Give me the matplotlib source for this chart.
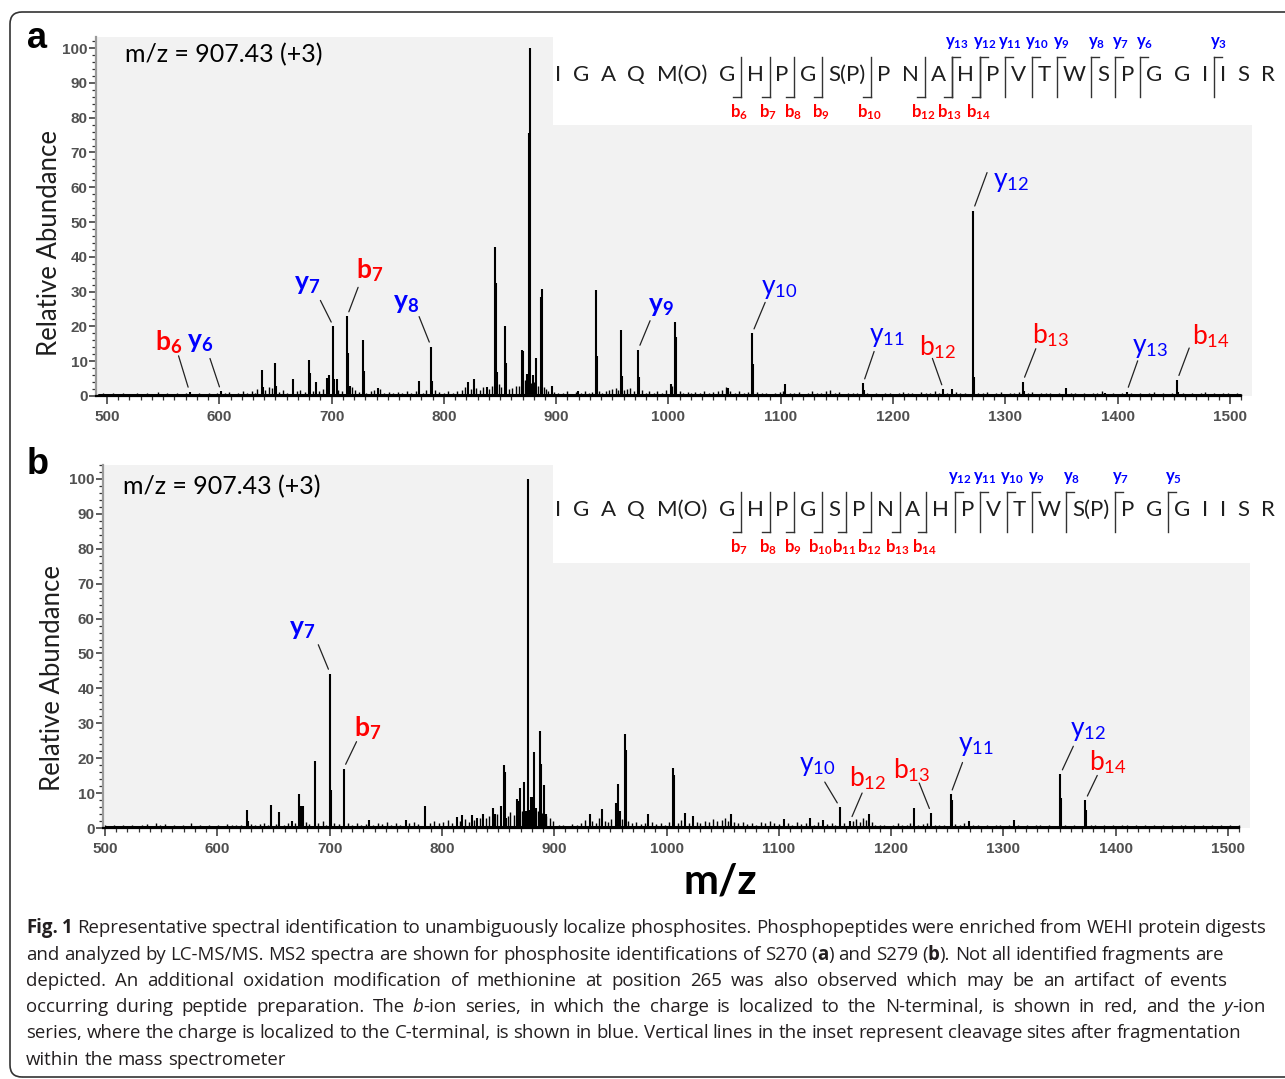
import matplotlib
matplotlib.use("Agg")
import matplotlib.pyplot as plt
from matplotlib.lines import Line2D
from matplotlib.patches import Rectangle, FancyBboxPatch
from matplotlib.ticker import MultipleLocator
from matplotlib.transforms import IdentityTransform

plt.rcParams["mathtext.fontset"] = "custom"
plt.rcParams["mathtext.rm"] = "Lato"
plt.rcParams["mathtext.it"] = "Lato:italic"
plt.rcParams["mathtext.bf"] = "Lato:bold"

# ---------------- data ----------------
# panel a : main peaks (m/z, relative abundance)
peaks_a_mz = [573.5, 601.5, 637.9, 638.8, 649.8, 650.6, 665.6, 679.8, 680.7, 686.0,
              696.2, 697.4, 701.6, 702.5, 704.4, 713.8, 714.7, 716.5, 728.0, 728.9,
              741.0, 777.6, 788.6, 789.5, 821.8, 826.5, 838.0, 845.5, 846.4, 847.3,
              854.4, 855.3, 869.8, 870.7, 874.4, 875.4, 876.7, 879.6, 882.0, 886.5,
              887.6, 895.9, 919.8, 935.1, 935.9, 957.5, 958.3, 972.9, 973.8, 1002.0,
              1006.2, 1007.0, 1053.0, 1074.5, 1075.4, 1104.0, 1173.3, 1174.2, 1244.8, 1252.4,
              1271.2, 1272.1, 1315.5, 1316.4, 1354.0, 1388.7, 1408.0, 1453.0, 1454.0]
peaks_a_h = [1.2, 1.3, 7.4, 2.5, 9.6, 3.0, 4.8, 10.3, 6.7, 3.9,
             5.3, 6.0, 20.0, 5.0, 5.0, 22.9, 12.5, 3.0, 16.1, 7.2,
             2.4, 4.3, 14.2, 4.3, 3.9, 4.8, 2.7, 42.8, 32.4, 6.8,
             20.1, 9.4, 13.2, 13.0, 6.3, 75.5, 100.0, 6.0, 10.8, 28.5,
             30.9, 2.9, 1.4, 30.4, 11.5, 18.9, 5.7, 13.3, 5.5, 3.4,
             21.4, 17.0, 2.4, 18.0, 9.1, 3.4, 3.6, 1.8, 1.9, 2.1,
             53.3, 5.5, 4.1, 1.5, 2.4, 1.0, 1.2, 4.6, 1.2]
noise_a = [(492, 0.6), (496, 1.0), (501, 0.5), (505, 0.8), (509, 0.6), (514, 1.0), (518, 0.5),
           (523, 0.7), (527, 0.9), (531, 0.5), (536, 0.8), (540, 0.6), (545, 1.1), (549, 0.6),
           (553, 0.8), (558, 0.5), (562, 0.9), (566, 0.7), (570, 1.0), (578, 0.6), (582, 0.9),
           (586, 0.5), (591, 0.8), (595, 0.6), (598, 1.0), (605, 0.9), (609, 1.2), (613, 0.7),
           (617, 0.9), (621, 1.3), (625, 0.8), (629, 1.5), (632, 1.0), (634, 2.0), (641, 1.8),
           (644, 2.5), (647, 2.2), (653, 1.2), (657, 1.6), (660, 1.0), (669, 1.4), (672, 1.8),
           (676, 1.2), (683, 1.5), (689, 1.3), (692, 2.0), (706, 1.8), (709, 1.4), (718, 2.5),
           (721, 1.8), (724, 1.2), (731, 1.0), (735, 1.3), (738, 1.8), (743, 2.0), (747, 1.0),
           (751, 1.2), (755, 0.8), (759, 1.1), (763, 0.9), (767, 1.3), (771, 1.0), (775, 1.5),
           (781, 1.0), (784, 1.6), (792, 1.8), (796, 1.2), (800, 1.0), (804, 1.4), (808, 1.0),
           (812, 1.3), (816, 1.6), (819, 2.5), (824, 2.0), (829, 2.2), (832, 1.8), (835, 2.5),
           (840, 2.0), (843, 2.8), (849, 3.5), (851, 2.5), (858, 2.0), (861, 2.2), (864, 2.8),
           (867, 3.0), (872, 4.5), (873, 3.5), (878, 3.8), (880, 4.0), (884, 2.8), (889, 2.5),
           (891, 2.0), (893, 1.5), (898, 1.2), (902, 0.8), (906, 1.0), (910, 1.3), (914, 0.7),
           (918, 1.2), (922, 1.0), (926, 1.5), (929, 0.8), (932, 1.2), (938, 1.5), (941, 1.0),
           (944, 1.4), (947, 1.8), (950, 2.0), (953, 2.2), (955, 1.6), (960, 1.8), (963, 2.0),
           (966, 2.4), (969, 1.5), (976, 1.6), (980, 1.0), (983, 1.3), (987, 1.0), (990, 1.4),
           (994, 0.9), (998, 1.8), (1003, 3.0), (1010, 1.5), (1013, 1.0), (1017, 1.2), (1020, 0.8),
           (1024, 1.1), (1028, 0.9), (1032, 1.3), (1036, 1.0), (1040, 1.2), (1044, 1.4), (1048, 1.8),
           (1051, 2.5), (1055, 1.5), (1059, 1.0), (1063, 1.3), (1067, 0.9), (1071, 1.1), (1079, 1.2),
           (1083, 0.8), (1087, 1.0), (1091, 0.7), (1095, 0.9), (1099, 1.1), (1102, 1.5), (1108, 1.0),
           (1112, 0.8), (1116, 1.1), (1120, 0.7), (1124, 0.9), (1128, 1.5), (1132, 0.8), (1136, 1.0),
           (1140, 1.3), (1144, 1.6), (1148, 0.9), (1152, 1.1), (1156, 0.7), (1160, 0.9), (1164, 1.0),
           (1168, 0.8), (1177, 1.0), (1181, 0.7), (1185, 0.9), (1189, 0.6), (1193, 0.8), (1197, 1.0),
           (1201, 0.7), (1205, 0.9), (1209, 1.2), (1213, 0.8), (1217, 1.0), (1221, 0.7), (1225, 1.2),
           (1229, 0.8), (1233, 1.0), (1237, 1.4), (1241, 0.9), (1248, 1.0), (1256, 1.2), (1260, 0.8),
           (1264, 1.0), (1267, 0.7), (1276, 1.0), (1280, 0.8), (1284, 1.2), (1288, 0.7), (1292, 0.9),
           (1296, 1.1), (1300, 0.7), (1304, 1.0), (1308, 0.8), (1312, 1.2), (1320, 0.9), (1324, 1.1),
           (1328, 0.7), (1332, 1.0), (1336, 0.8), (1340, 1.0), (1344, 0.7), (1348, 0.9), (1358, 0.8),
           (1362, 1.0), (1366, 0.7), (1370, 0.9), (1374, 0.6), (1378, 0.8), (1382, 1.0), (1386, 1.4),
           (1392, 0.7), (1396, 0.9), (1400, 0.6), (1404, 0.8), (1412, 0.9), (1416, 0.7), (1420, 1.0),
           (1424, 0.6), (1428, 0.8), (1432, 1.1), (1436, 0.7), (1440, 0.9), (1444, 0.6), (1448, 0.8),
           (1458, 0.9), (1462, 0.7), (1466, 1.0), (1470, 0.6), (1474, 0.8), (1478, 1.1), (1482, 0.7),
           (1486, 0.9), (1490, 0.6), (1494, 0.8), (1498, 1.0), (1502, 0.7), (1506, 0.8), (1510, 0.6)]

# panel b
peaks_b_mz = [626.4, 627.3, 648.1, 655.1, 666.9, 672.6, 674.2, 676.0, 686.9, 700.6,
              701.5, 712.4, 735.4, 768.0, 785.0, 813.7, 818.2, 827.0, 831.0, 836.6,
              845.2, 847.0, 852.5, 855.0, 855.9, 857.5, 866.9, 868.2, 869.8, 873.2,
              875.0, 876.6, 877.5, 879.5, 881.0, 882.3, 884.0, 887.4, 888.3, 891.0,
              893.0, 931.5, 942.4, 954.8, 957.2, 958.3, 962.8, 963.7, 983.5, 1005.5,
              1006.4, 1016.5, 1023.8, 1057.4, 1104.8, 1127.4, 1139.2, 1154.3, 1163.5, 1179.9,
              1220.2, 1235.7, 1252.9, 1253.8, 1269.3, 1309.1, 1350.7, 1351.6, 1372.9, 1373.8]
peaks_b_h = [5.2, 2.0, 6.7, 4.6, 2.0, 9.8, 6.3, 6.3, 19.2, 44.2,
             11.0, 17.0, 2.4, 2.4, 6.3, 3.1, 3.8, 3.6, 2.9, 4.1,
             5.7, 4.1, 6.4, 18.1, 16.0, 3.0, 8.2, 7.8, 11.5, 13.3,
             5.0, 100.0, 5.3, 9.0, 8.8, 21.7, 5.7, 27.8, 18.3, 12.2,
             4.0, 4.1, 5.4, 7.3, 12.6, 4.8, 26.9, 22.3, 4.0, 17.3,
             15.1, 4.4, 3.3, 4.1, 2.7, 2.9, 2.2, 6.0, 2.0, 4.1,
             5.7, 4.3, 9.6, 7.9, 2.0, 2.2, 15.4, 8.7, 7.9, 5.1]
noise_b = [(500, 0.8), (504, 0.5), (508, 1.0), (512, 0.6), (516, 0.8), (520, 0.5), (524, 0.9),
           (528, 0.6), (533, 0.8), (537, 1.2), (541, 0.7), (545, 1.5), (549, 0.8), (553, 1.2),
           (557, 0.6), (561, 0.9), (565, 0.7), (569, 1.0), (573, 0.6), (577, 1.3), (581, 0.7),
           (585, 0.9), (589, 0.6), (593, 0.8), (597, 0.5), (601, 1.0), (605, 0.7), (609, 1.1),
           (613, 0.8), (617, 1.0), (621, 0.9), (630, 1.2), (634, 0.9), (638, 1.1), (642, 1.4),
           (645, 0.9), (652, 1.2), (659, 1.0), (663, 1.5), (669, 1.3), (679, 1.8), (682, 1.2),
           (690, 1.5), (694, 2.0), (697, 1.0), (704, 1.5), (708, 1.2), (716, 1.3), (720, 1.0),
           (724, 1.4), (728, 0.9), (732, 1.2), (739, 1.0), (743, 1.5), (747, 1.2), (751, 1.6),
           (755, 1.0), (759, 1.3), (763, 1.0), (771, 1.5), (775, 1.8), (779, 1.2), (789, 1.5),
           (793, 2.0), (797, 1.3), (801, 1.8), (805, 2.2), (809, 1.5), (816, 2.0), (821, 2.5),
           (824, 1.8), (829, 2.2), (834, 2.8), (839, 3.0), (842, 3.5), (849, 4.0), (859, 3.5),
           (861, 4.5), (864, 3.8), (871, 5.0), (874, 4.5), (879, 5.5), (886, 5.0), (889, 4.2),
           (893, 3.5), (896, 3.0), (899, 2.0), (904, 0.8), (908, 1.0), (912, 0.7), (916, 1.2),
           (920, 1.0), (924, 1.5), (927, 2.2), (934, 2.0), (937, 1.5), (940, 2.8), (945, 2.0),
           (948, 1.8), (951, 2.5), (960, 2.5), (966, 2.0), (969, 1.5), (973, 1.8), (977, 1.2),
           (981, 1.5), (987, 1.8), (991, 1.2), (995, 1.5), (999, 1.0), (1002, 1.6), (1010, 1.4),
           (1013, 2.2), (1020, 1.5), (1027, 1.8), (1030, 1.4), (1034, 2.0), (1038, 1.6), (1041, 2.5),
           (1045, 2.0), (1049, 2.3), (1052, 2.8), (1055, 2.0), (1060, 1.8), (1064, 1.4), (1068, 1.6),
           (1072, 1.2), (1076, 1.5), (1080, 1.0), (1084, 1.8), (1088, 1.3), (1092, 2.0), (1096, 1.5),
           (1100, 1.2), (1108, 1.4), (1112, 1.0), (1116, 1.6), (1120, 1.2), (1124, 1.4), (1131, 1.0),
           (1135, 1.8), (1143, 1.2), (1147, 1.5), (1150, 1.0), (1158, 1.5), (1166, 2.0), (1169, 2.5),
           (1172, 1.8), (1175, 2.8), (1178, 2.2), (1183, 1.8), (1186, 1.0), (1190, 0.8), (1194, 1.0),
           (1198, 0.7), (1202, 1.0), (1206, 1.3), (1210, 0.8), (1214, 1.0), (1217, 1.5), (1224, 1.0),
           (1228, 1.2), (1232, 1.5), (1239, 1.0), (1243, 0.8), (1247, 1.0), (1257, 1.2), (1261, 1.0),
           (1265, 1.3), (1273, 0.8), (1277, 1.0), (1281, 0.7), (1285, 0.9), (1289, 0.6), (1293, 0.8),
           (1297, 1.0), (1301, 0.7), (1305, 0.9), (1313, 0.8), (1317, 0.6), (1321, 0.9), (1325, 0.7),
           (1329, 0.8), (1333, 1.0), (1337, 0.6), (1341, 0.8), (1345, 0.7), (1355, 0.8), (1359, 0.6),
           (1363, 0.9), (1367, 0.7), (1378, 0.8), (1382, 1.0), (1386, 0.6), (1390, 0.8), (1394, 0.7),
           (1398, 0.9), (1402, 0.6), (1406, 0.8), (1410, 1.0), (1414, 0.7), (1418, 0.9), (1422, 0.6),
           (1426, 0.8), (1430, 0.7), (1434, 1.0), (1438, 0.6), (1442, 0.8), (1446, 0.7), (1450, 0.9),
           (1454, 0.6), (1458, 0.8), (1462, 1.0), (1466, 0.7), (1470, 0.9), (1474, 0.6), (1478, 0.8),
           (1482, 0.7), (1486, 0.9), (1490, 0.6), (1494, 0.8), (1498, 0.7), (1502, 0.9), (1506, 0.6),
           (1510, 0.8)]

# ion labels on the spectra: (ion, number, m/z, bold)
ions_a = [("b", "6", 573.5, True), ("y", "6", 601.5, True), ("y", "7", 701.6, True),
          ("b", "7", 713.8, True), ("y", "8", 788.6, True), ("y", "9", 972.9, True),
          ("y", "10", 1074.5, False), ("y", "11", 1173.3, False), ("b", "12", 1244.8, False),
          ("y", "12", 1271.2, False), ("b", "13", 1315.5, False), ("y", "13", 1408.0, False),
          ("b", "14", 1453.0, False)]
ions_b = [("y", "7", 700.6, True), ("b", "7", 712.4, True), ("y", "10", 1154.3, False),
          ("b", "12", 1163.5, False), ("b", "13", 1235.7, False), ("y", "11", 1252.9, False),
          ("y", "12", 1350.7, False), ("b", "14", 1372.9, False)]
# leader line end / label centre, pixel offsets from the peak top
ion_offsets_a = [((-11, 36), (-21, 50)), ((-11, 33), (-21, 50)), ((-13, 26), (-26, 43)),
                 ((11, 29), (23, 46)), ((-12, 30), (-25, 45)), ((12, 29), (23, 45)),
                 ((13, 31), (27, 45)), ((11, 32), (24, 47)), ((-11, 31), (-6, 42)),
                 ((14, 38), (38, 30)), ((13, 33), (28, 47)), ((11, 31), (23, 45)),
                 ((12, 32), (34, 44))]
ion_offsets_b = [((-12, 29), (-28, 46)), ((13, 27), (24, 41)), ((-15, 25), (-22, 42)),
                 ((12, 28), (18, 43)), ((-12, 30), (-19, 43)), ((12, 32), (25, 49)),
                 ((13, 28), (28, 44)), ((12, 25), (23, 38))]

# inset sequences; cleavage marks are drawn after the residue index in *_cuts
seq_a = ["I", "G", "A", "Q", "M(O)", "G", "H", "P", "G", "S(P)", "P", "N", "A",
         "H", "P", "V", "T", "W", "S", "P", "G", "G", "I", "I", "S", "R"]
b_labels_a = [6, 7, 8, 9, 10, 12, 13, 14]
b_cuts_a = [6, 7, 8, 9, 10, 12, 13, 14]
y_labels_a = [13, 12, 11, 10, 9, 8, 7, 6, 3]
seq_b = ["I", "G", "A", "Q", "M(O)", "G", "H", "P", "G", "S", "P", "N", "A",
         "H", "P", "V", "T", "W", "S(P)", "P", "G", "G", "I", "I", "S", "R"]
b_labels_b = [7, 8, 9, 10, 11, 12, 13, 14]
b_cuts_b = [6, 7, 8, 9, 10, 11, 12, 13]
y_labels_b = [12, 11, 10, 9, 8, 7, 5]

precursor = "m/z = 907.43 (+3)"
caption_lines = [
    "§Fig. 1§ Representative spectral identification to unambiguously localize phosphosites. Phosphopeptides were enriched from WEHI protein digests",
    "and analyzed by LC-MS/MS. MS2 spectra are shown for phosphosite identifications of S270 (§a§) and S279 (§b§). Not all identified fragments are",
    "depicted. An additional oxidation modification of methionine at position 265 was also observed which may be an artifact of events",
    "occurring during peptide preparation. The ¦b¦-ion series, in which the charge is localized to the N-terminal, is shown in red, and the ¦y¦-ion",
    "series, where the charge is localized to the C-terminal, is shown in blue. Vertical lines in the inset represent cleavage sites after fragmentation",
    "within the mass spectrometer",
]

# ---------------- layout ----------------
W, H = 1285, 1079
RED, BLUE = "#ff0000", "#0000ff"
PIX = IdentityTransform()
CAP_FONT = "Open Sans"

fig = plt.figure(figsize=(W / 100, H / 100), dpi=100)
fig.patch.set_facecolor("white")
renderer = fig.canvas.get_renderer()


def ftext(x, y, s, **kw):
    return fig.text(x, H - y, s, transform=PIX, **kw)


def fline(xs, ys, **kw):
    fig.add_artist(Line2D(xs, [H - y for y in ys], transform=PIX, **kw))


def text_w(s, **kw):
    t = ftext(0, 0, s, **kw)
    w = t.get_window_extent(renderer).width
    t.remove()
    return w


def peak_top(mz, mzs, hs):
    return max(h for m, h in zip(mzs, hs) if abs(m - mz) < 0.6)


def ion_tex(ion, num, bold):
    f = r"\mathbf" if bold else r"\mathrm"
    return "$%s{%s}_{%s{%s}}$" % (f, ion, f, num)


def spectrum(box, xlim, ylim, mzs, hs, noise, ions, offsets):
    left, top, right, bottom = box
    ax = fig.add_axes([left / W, 1 - bottom / H, (right - left) / W, (bottom - top) / H])
    ax.set_facecolor("#f2f2f2")
    ax.set_xlim(*xlim)
    ax.set_ylim(*ylim)
    for s in ("top", "right"):
        ax.spines[s].set_visible(False)
    ax.spines["bottom"].set_bounds(xlim[0], 1510)
    ax.spines["bottom"].set_linewidth(1.6)
    ax.spines["left"].set_color("#9a9a9a")
    ax.spines["left"].set_linewidth(1.6)
    ax.xaxis.set_major_locator(MultipleLocator(100))
    ax.xaxis.set_minor_locator(MultipleLocator(10))
    ax.yaxis.set_minor_locator(MultipleLocator(2))
    ax.set_yticks([t for t in range(0, 101, 10)])
    ax.tick_params(which="major", direction="out", length=5, width=1.1, color="#333333",
                   labelsize=11, labelcolor="#505050", pad=1)
    ax.tick_params(axis="x", which="major", length=6, pad=4)
    ax.tick_params(which="minor", direction="out", length=3, width=0.9, color="#333333")
    for lab in ax.get_xticklabels() + ax.get_yticklabels():
        lab.set_fontfamily("Liberation Sans")
        lab.set_fontweight("bold")

    nm = [m for m, h in noise]
    nh = [h for m, h in noise]
    ax.vlines(nm, 0, nh, color="black", lw=1.0)
    ax.vlines(mzs, 0, hs, color="black", lw=1.5)
    ax.plot([min(nm), 1510], [0.25, 0.25], color="black", lw=2.2, solid_capstyle="butt")

    for (ion, num, mz, bold), (lend, tpos) in zip(ions, offsets):
        h = peak_top(mz, mzs, hs)
        ax.annotate("", xy=(mz, h), xytext=lend, textcoords="offset pixels",
                    arrowprops=dict(arrowstyle="-", color="#222222", lw=0.9,
                                    shrinkA=0, shrinkB=3.5))
        ax.annotate(ion_tex(ion, num, bold), xy=(mz, h), xytext=tpos,
                    textcoords="offset pixels", ha="center", va="center",
                    fontsize=19, color=RED if ion == "b" else BLUE,
                    annotation_clip=False)
    return ax


def sequence(seq, b_labels, b_cuts, y_labels, y_res):
    kw = dict(fontfamily="Lato", fontsize=16, color="#1e1e1e")
    widths = [text_w(r, **kw) for r in seq]
    first, last = 558, 1268
    half = sum((widths[i] + widths[i + 1]) / 2 for i in range(len(seq) - 1))
    gap = (last - first - half) / (len(seq) - 1)
    centers = [first]
    for i in range(1, len(seq)):
        centers.append(centers[-1] + (widths[i - 1] + widths[i]) / 2 + gap)
    for r, c in zip(seq, centers):
        ftext(c, y_res, r, ha="center", va="center", **kw)

    def cut(k):
        return centers[k - 1] + widths[k - 1] / 2 + gap / 2

    top, bot = y_res - 18, y_res + 22
    lk = dict(color="#333333", lw=1.0)
    for lab, k in zip(b_labels, b_cuts):
        x = cut(k)
        fline([x, x], [top, bot], **lk)
        fline([x - 8, x], [bot, bot], **lk)
        ftext(x - 2, y_res + 37, ion_tex("b", str(lab), True), ha="center", va="center",
              fontsize=12, color=RED)
    for k in y_labels:
        x = cut(len(seq) - k)
        fline([x, x], [top, bot], **lk)
        fline([x, x + 8], [top, top], **lk)
        ftext(x + 5, y_res - 33, ion_tex("y", str(k), True), ha="center", va="center",
              fontsize=12, color=BLUE)


# outer frame
fig.add_artist(FancyBboxPatch((10, 2), 1300, 1065, boxstyle="round,pad=0,rounding_size=12",
                              transform=PIX, fc="none", ec="#333333", lw=1.2))

# panel a
spectrum((96, 37, 1252, 396), (490.2, 1519.6), (0, 103.2),
         peaks_a_mz, peaks_a_h, noise_a, ions_a, ion_offsets_a)
fig.add_artist(Rectangle((553, H - 125), W - 553, 125 - 37, transform=PIX,
                         fc="white", ec="none", zorder=2))
sequence(seq_a, b_labels_a, b_cuts_a, y_labels_a, 75)
ftext(37, 38, "a", fontfamily="Liberation Sans", fontweight="bold", fontsize=26,
      ha="center", va="center")
ftext(125, 55, precursor, fontfamily="Lato", fontsize=18, ha="left", va="center")
ftext(50, 243, "Relative Abundance", fontfamily="Lato", fontsize=18.5, rotation=90,
      ha="center", va="center", color="#1e1e1e")

# panel b
spectrum((103, 465, 1250, 828), (498.2, 1519.6), (0, 104.0),
         peaks_b_mz, peaks_b_h, noise_b, ions_b, ion_offsets_b)
fig.add_artist(Rectangle((553, H - 563), W - 553, 563 - 465, transform=PIX,
                         fc="white", ec="none", zorder=2))
sequence(seq_b, b_labels_b, b_cuts_b, y_labels_b, 510)
ftext(38, 464, "b", fontfamily="Liberation Sans", fontweight="bold", fontsize=26,
      ha="center", va="center")
ftext(123, 487, precursor, fontfamily="Lato", fontsize=18, ha="left", va="center")
ftext(53, 678, "Relative Abundance", fontfamily="Lato", fontsize=18.5, rotation=90,
      ha="center", va="center", color="#1e1e1e")

ftext(720, 882, "m/z", fontfamily="Lato", fontweight="bold", fontsize=30,
      ha="center", va="center")


# caption (justified like the journal layout)
def parse(line):
    words, bold, ital = [], False, False
    for raw in line.split(" "):
        segs, buf = [], ""
        for ch in raw:
            if ch in "§¦":
                if buf:
                    segs.append((buf, bold, ital))
                    buf = ""
                if ch == "§":
                    bold = not bold
                else:
                    ital = not ital
            else:
                buf += ch
        if buf:
            segs.append((buf, bold, ital))
        words.append(segs)
    return words


def seg_kw(b, i, size):
    return dict(fontfamily=CAP_FONT, fontsize=size, color="#231f20",
                fontweight="bold" if b else "normal", fontstyle="italic" if i else "normal")


caption_right = [1266, 1224, 1227, 1266, 1241, None]
caption_y = [928, 955, 981, 1007, 1033, 1060]
parsed = [parse(line) for line in caption_lines]

# pick the largest size at which every justified line still fits
ref = 10.0
sp_ref = text_w("a a", **seg_kw(False, False, ref)) - text_w("aa", **seg_kw(False, False, ref))
scale = 10.0
for words, right in zip(parsed, caption_right):
    if right is None:
        continue
    nat = sum(text_w(s, **seg_kw(b, i, ref)) for wd in words for s, b, i in wd)
    nat += sp_ref * 0.85 * (len(words) - 1)
    scale = min(scale, (right - 26) / nat)
cap_size = min(ref * scale, 13.5)

space_w = text_w("a a", **seg_kw(False, False, cap_size)) - text_w("aa", **seg_kw(False, False, cap_size))
for words, right, yc in zip(parsed, caption_right, caption_y):
    ww = [[text_w(s, **seg_kw(b, i, cap_size)) for s, b, i in wd] for wd in words]
    total = sum(sum(w) for w in ww)
    sp = space_w if right is None else max((right - 26 - total) / (len(words) - 1), 2)
    x = 26
    for wd, w in zip(words, ww):
        for (s, b, i), wi in zip(wd, w):
            ftext(x, yc, s, ha="left", va="center", **seg_kw(b, i, cap_size))
            x += wi
        x += sp

fig.savefig("out.png", dpi=100)
